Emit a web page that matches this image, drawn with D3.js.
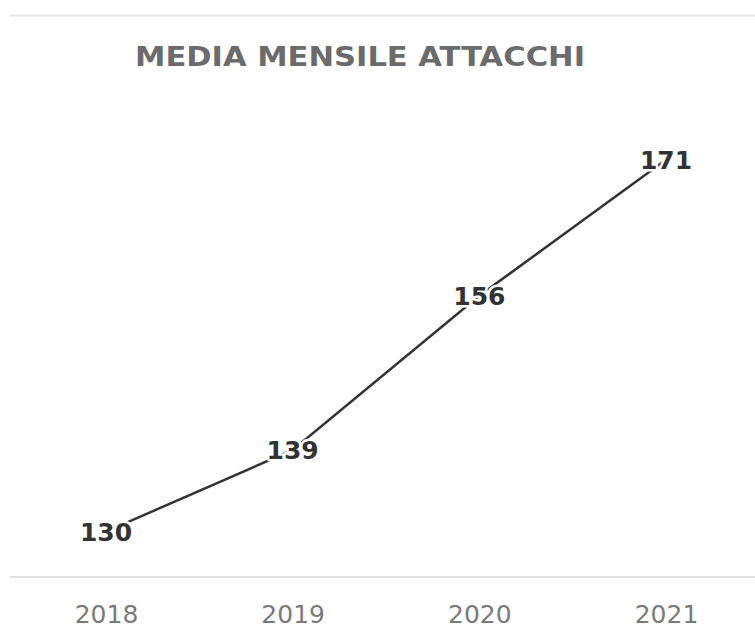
<!DOCTYPE html>
<html>
<head>
<meta charset="utf-8">
<script src="https://cdn.jsdelivr.net/npm/d3@7"></script>
<style>
  body { margin: 0; background: #fff; }
  svg { display: block; }
</style>
</head>
<body>
<div id="chart"></div>
<script>
// values
let years = ["2018", "2019", "2020", "2021"];
let values = [130, 139, 156, 171];
let title = "MEDIA MENSILE ATTACCHI";

let width = 755, height = 628;

let svg = d3.select("#chart")
    .append("svg")
    .attr("width", width)
    .attr("height", height);

let x = d3.scalePoint()
    .domain(years)
    .range([106, 666]);

let y = d3.scaleLinear()
    .domain([125, 175])
    .range([577, 123.4]);

// top rule
svg.append("line")
    .attr("x1", 10).attr("x2", width)
    .attr("y1", 15.5).attr("y2", 15.5)
    .attr("stroke", "#e6e6e6")
    .attr("stroke-width", 2);

svg.append("text")
    .attr("x", 360)
    .attr("y", 66)
    .attr("text-anchor", "middle")
    .style("font-family", "DejaVu Sans")
    .style("font-weight", "bold")
    .style("font-size", "27px")
    .style("fill", "#6b6b6b")
    .attr("textLength", 450)
    .attr("lengthAdjust", "spacingAndGlyphs")
    .text(title);

// baseline axis
svg.append("line")
    .attr("x1", 10).attr("x2", width)
    .attr("y1", y(125)).attr("y2", y(125))
    .attr("stroke", "#e0e0e0")
    .attr("stroke-width", 2);

let xAxis = svg.append("g")
    .attr("transform", "translate(0," + y(125) + ")")
    .call(d3.axisBottom(x).tickSize(0).tickPadding(28));

xAxis.select(".domain").remove();
xAxis.selectAll("text")
    .style("font-family", "DejaVu Sans")
    .style("font-size", "25px")
    .style("font-weight", "normal")
    .style("fill", "#7a7a7a");

let data = years.map(function(d, i) { return { year: d, value: values[i] }; });

let line = d3.line()
    .x(function(d) { return x(d.year); })
    .y(function(d) { return y(d.value); });

svg.append("path")
    .datum(data)
    .attr("d", line)
    .attr("fill", "none")
    .attr("stroke", "#333")
    .attr("stroke-width", 2.5);

svg.selectAll(".val")
    .data(data)
    .enter().append("text")
    .attr("class", "val")
    .attr("x", function(d) { return x(d.year); })
    .attr("y", function(d) { return y(d.value); })
    .attr("dy", "0.36em")
    .attr("text-anchor", "middle")
    .style("font-family", "DejaVu Sans")
    .style("font-weight", "bold")
    .style("font-size", "25px")
    .style("fill", "#333")
    .style("stroke", "#fff")
    .style("stroke-width", 5)
    .style("stroke-linejoin", "round")
    .style("paint-order", "stroke")
    .text(function(d) { return d.value; });
</script>
</body>
</html>
